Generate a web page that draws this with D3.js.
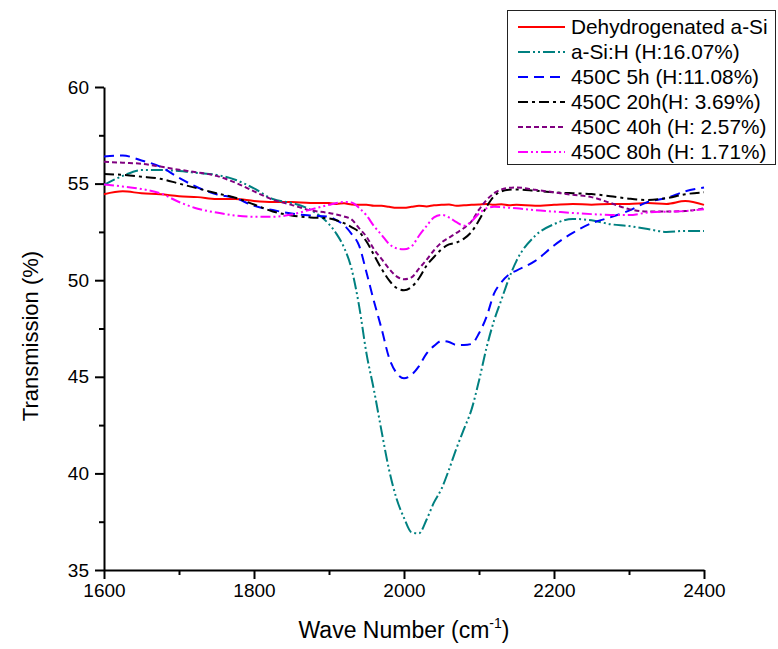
<!DOCTYPE html>
<html>
<head>
<meta charset="utf-8">
<script src="https://cdn.jsdelivr.net/npm/d3@7"></script>
<style>
  body { margin: 0; background: #fff; }
  text { font-family: Arial, "Liberation Sans", sans-serif; fill: #000; }
</style>
</head>
<body>
<div id="chart"></div>
<script>
// wave numbers (cm-1) shared by every series
const waveNumbers = [1600, 1625, 1650, 1675, 1700, 1725, 1750, 1775, 1800, 1825, 1850, 1875,
  1900, 1910, 1920, 1930, 1940, 1950, 1960, 1970, 1980, 1990, 2000, 2010, 2020, 2030, 2040,
  2050, 2060, 2070, 2080, 2090, 2100, 2110, 2120, 2130, 2140, 2150,
  2175, 2200, 2225, 2250, 2275, 2300, 2325, 2350, 2375, 2400]

const dehydrogenated = [54.45, 54.6, 54.5, 54.45, 54.35, 54.3, 54.2, 54.2, 54.1, 54.05, 54.05, 54.0,
  54.0, 53.95, 53.98, 53.92, 53.9, 53.9, 53.85, 53.85, 53.8, 53.75, 53.75, 53.8, 53.85, 53.82, 53.88,
  53.9, 53.92, 53.85, 53.88, 53.9, 53.92, 53.95, 53.9, 53.93, 53.88, 53.9,
  53.85, 53.9, 53.95, 53.9, 53.95, 53.95, 54.0, 53.95, 54.1, 53.9]

const aSiH = [54.93, 55.4, 55.7, 55.7, 55.65, 55.55, 55.45, 55.2, 54.75, 54.2, 54.0, 53.65,
  52.9, 52.4, 51.7, 50.6, 48.7, 46.2, 44.3, 42.2, 40.2, 38.7, 37.7, 36.95, 36.9, 37.6, 38.5,
  39.2, 40.2, 41.3, 42.3, 43.3, 44.8, 46.5, 47.9, 49.0, 50.1, 51.0,
  52.3, 52.9, 53.17, 53.1, 52.9, 52.8, 52.65, 52.5, 52.55, 52.55]

const h5 = [56.4, 56.45, 56.2, 55.88, 55.3, 54.8, 54.45, 54.25, 53.85, 53.63, 53.45, 53.35,
  53.28, 53.1, 52.85, 52.4, 51.8, 50.4, 48.9, 47.5, 46.0, 45.2, 44.92, 45.1, 45.55, 46.2, 46.6,
  46.85, 46.8, 46.65, 46.65, 46.7, 47.25, 48.1, 49.3, 49.9, 50.3, 50.5,
  51.0, 51.8, 52.45, 52.95, 53.25, 53.6, 54.05, 54.25, 54.6, 54.8]

const h20 = [55.5, 55.45, 55.36, 55.25, 55.0, 54.75, 54.5, 54.27, 53.92, 53.56, 53.35, 53.25,
  53.2, 53.1, 52.95, 52.75, 52.5, 52.0, 51.3, 50.6, 50.0, 49.6, 49.48, 49.65, 50.1, 50.75, 51.2,
  51.6, 51.85, 51.95, 52.15, 52.5, 53.1, 53.8, 54.35, 54.6, 54.68, 54.7,
  54.63, 54.55, 54.5, 54.46, 54.35, 54.22, 54.15, 54.25, 54.45, 54.55]

const h40 = [56.13, 56.08, 56.03, 55.88, 55.72, 55.58, 55.4, 55.05, 54.6, 54.17, 53.9, 53.62,
  53.48, 53.4, 53.3, 53.15, 52.7, 52.25, 51.6, 51.1, 50.6, 50.2, 50.05, 50.15, 50.6, 51.05, 51.55,
  51.95, 52.2, 52.45, 52.7, 53.05, 53.65, 54.15, 54.5, 54.7, 54.78, 54.8,
  54.68, 54.55, 54.42, 54.3, 54.0, 53.68, 53.55, 53.55, 53.58, 53.72]

const h80 = [54.95, 54.85, 54.72, 54.5, 54.05, 53.7, 53.5, 53.35, 53.28, 53.28, 53.4, 53.65,
  53.9, 54.0, 54.05, 54.02, 53.75, 53.35, 52.8, 52.35, 51.88, 51.65, 51.6, 51.75, 52.3, 52.8, 53.25,
  53.38, 53.25, 53.0, 52.82, 53.05, 53.45, 53.72, 53.8, 53.78, 53.75, 53.72,
  53.62, 53.55, 53.48, 53.42, 53.38, 53.37, 53.5, 53.55, 53.58, 53.67]

const seriesNames = ['Dehydrogenated a-Si', 'a-Si:H (H:16.07%)', '450C 5h (H:11.08%)',
  '450C 20h(H: 3.69%)', '450C 40h (H: 2.57%)', '450C 80h (H: 1.71%)']
const seriesValues = [dehydrogenated, aSiH, h5, h20, h40, h80]

const xTicks = [1600, 1800, 2000, 2200, 2400]
const yTicks = [35, 40, 45, 50, 55, 60]

const W = 778
const H = 649
const margin = { TOP: 87, RIGHT: 74, BOTTOM: 79, LEFT: 104 }

const colors = ['#ff0000', '#008080', '#0000ff', '#000000', '#800080', '#ff00ff']
const dashes = [null, '12,3,2,3,2,3', '10,6', '10,4,3,4', '5,3', '10,3,2,3,2,3']

const svg = d3.select('#chart')
  .append('svg')
  .attr('width', W)
  .attr('height', H)

const x = d3.scaleLinear()
  .domain([1600, 2400])
  .range([margin.LEFT, W - margin.RIGHT])

const y = d3.scaleLinear()
  .domain([35, 60])
  .range([H - margin.BOTTOM, margin.TOP])

// minor ticks first so major ones draw over them
svg.append('g')
  .attr('transform', `translate(0, ${H - margin.BOTTOM})`)
  .call(d3.axisBottom(x).tickValues(d3.range(1700, 2400, 200)).tickSize(5).tickFormat(''))
  .call(g => g.select('.domain').remove())
  .call(g => g.selectAll('line').attr('stroke-width', 2))

svg.append('g')
  .attr('transform', `translate(${margin.LEFT}, 0)`)
  .call(d3.axisLeft(y).tickValues(d3.range(37.5, 60, 5)).tickSize(5).tickFormat(''))
  .call(g => g.select('.domain').remove())
  .call(g => g.selectAll('line').attr('stroke-width', 2))

const xAxis = g =>
  g.attr('transform', `translate(0, ${H - margin.BOTTOM})`)
    .call(d3.axisBottom(x).tickValues(xTicks).tickFormat(d3.format('d')).tickSize(9).tickSizeOuter(0).tickPadding(5))
    .call(g => g.select('.domain').attr('stroke-width', 2))
    .call(g => g.selectAll('line').attr('stroke-width', 2))
    .call(g => g.selectAll('text').attr('font-size', 19).attr('font-family', 'Arial, "Liberation Sans"'))

const yAxis = g =>
  g.attr('transform', `translate(${margin.LEFT}, 0)`)
    .call(d3.axisLeft(y).tickValues(yTicks).tickSize(9).tickSizeOuter(0).tickPadding(6))
    .call(g => g.select('.domain').attr('stroke-width', 2))
    .call(g => g.selectAll('line').attr('stroke-width', 2))
    .call(g => g.selectAll('text').attr('font-size', 19).attr('font-family', 'Arial, "Liberation Sans"'))

svg.append('g').call(xAxis)
svg.append('g').call(yAxis)

// axis titles
const xTitle = svg.append('text')
  .attr('x', (x(1600) + x(2400)) / 2)
  .attr('y', 638)
  .attr('text-anchor', 'middle')
  .attr('font-size', 23)
xTitle.append('tspan').text('Wave Number (cm')
xTitle.append('tspan').attr('font-size', 14).attr('dy', -10).text('-1')
xTitle.append('tspan').attr('dy', 10).text(')')

svg.append('text')
  .attr('transform', 'translate(38, 336) rotate(-90)')
  .attr('text-anchor', 'middle')
  .attr('font-size', 22)
  .text('Transmission (%)')

const line = vals => d3.line()
  .x((d, i) => x(waveNumbers[i]))
  .y(d => y(d))
  .curve(d3.curveMonotoneX)(vals)

svg.append('g')
  .selectAll('path')
  .data(seriesValues)
  .join('path')
  .attr('d', d => line(d))
  .attr('fill', 'none')
  .attr('stroke', (d, i) => colors[i])
  .attr('stroke-width', 2)
  .attr('stroke-dasharray', (d, i) => dashes[i])

// legend
const legend = svg.append('g')

legend.append('rect')
  .attr('x', 507.5)
  .attr('y', 10.5)
  .attr('width', 268)
  .attr('height', 154)
  .attr('fill', '#fff')
  .attr('stroke', '#222')
  .attr('stroke-width', 1)

const rows = legend.selectAll('.legend')
  .data(seriesNames)
  .join('g')
  .attr('class', 'legend')
  .attr('transform', (d, i) => `translate(0, ${27 + i * 25})`)

rows.append('line')
  .attr('x1', 518)
  .attr('x2', 565)
  .attr('stroke', (d, i) => colors[i])
  .attr('stroke-width', 2)
  .attr('stroke-dasharray', (d, i) => dashes[i])

rows.append('text')
  .attr('x', 571)
  .attr('y', 7)
  .attr('font-size', 20.8)
  .text(d => d)
</script>
</body>
</html>
